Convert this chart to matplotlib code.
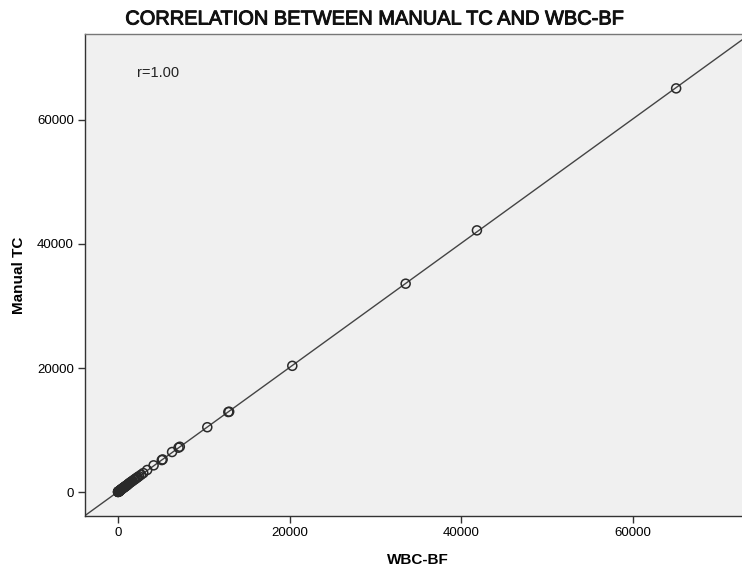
import numpy as np
import matplotlib
import matplotlib.pyplot as plt
import matplotlib.patheffects as pe

matplotlib.use("Agg")

plt.rcParams["font.family"] = ["Liberation Sans", "DejaVu Sans"]

# data (cells/uL)
wbc_bf = [65000, 41800, 33500, 20300, 12950, 12850, 10400, 7200, 7050, 6300,
          5200, 5100, 4150, 3400, 2950, 2700, 2450, 2300, 2200, 2050,
          1950, 1850, 1700, 1600, 1500, 1400, 1300, 1200, 1150, 1050,
          1000, 950, 900, 850, 800, 750, 700, 650, 600, 550,
          500, 450, 420, 380, 350, 300, 280, 250, 220, 200,
          180, 160, 140, 120, 100, 90, 80, 70, 60, 50,
          40, 30, 20, 10, 5]
manual_tc = [65100, 42200, 33600, 20350, 12950, 12900, 10450, 7300, 7150, 6450,
             5250, 5150, 4300, 3550, 3050, 2800, 2550, 2400, 2300, 2150,
             2050, 1950, 1800, 1700, 1600, 1500, 1400, 1300, 1200, 1100,
             1050, 1000, 950, 900, 850, 800, 750, 700, 650, 600,
             550, 500, 450, 400, 380, 320, 300, 270, 240, 220,
             190, 170, 150, 130, 110, 100, 90, 80, 70, 55,
             45, 35, 25, 15, 10]

x_ticks = [0, 20000, 40000, 60000]
y_ticks = [0, 20000, 40000, 60000]
r_value = np.corrcoef(wbc_bf, manual_tc)[0, 1]

fig = plt.figure(figsize=(7.42, 5.70), dpi=100)
# right edge of the plot runs past the crop, as in the reference
ax = fig.add_axes([85 / 742, 1 - 516 / 570, 665 / 742, 482 / 570])
ax.set_facecolor("#f0f0f0")

xlim = (-3840, 73600)
ylim = (-3870, 73870)
ax.set_xlim(xlim)
ax.set_ylim(ylim)

slope, intercept = np.polyfit(wbc_bf, manual_tc, 1)
xs = np.array(xlim)
ax.plot(xs, intercept + slope * xs, color="#444444", lw=1.0, zorder=2)

ax.scatter(wbc_bf, manual_tc, s=42, facecolors="none", edgecolors="#2a2a2a",
           linewidths=1.1, zorder=3)

ax.set_xticks(x_ticks)
ax.set_yticks(y_ticks)
ax.tick_params(direction="out", length=5, width=1, color="#333333",
               labelsize=9.5, pad=3)
for side in ["left", "bottom", "top", "right"]:
    ax.spines[side].set_color("#333333")
    ax.spines[side].set_linewidth(1)
ax.spines["top"].set_color("#777777")

ax.set_xlabel("WBC-BF", fontsize=11, fontweight="bold", labelpad=10)
ax.set_ylabel("Manual TC", fontsize=11, fontweight="bold", labelpad=8)
ax.text(0.078, 0.919, f"r={r_value:.2f}", transform=ax.transAxes,
        fontsize=10.5, ha="left", va="center", color="#222222")

# regular weight thickened a little to match the medium-weight title
fig.text(374 / 742, 1 - 19 / 570, "CORRELATION BETWEEN MANUAL TC AND WBC-BF",
         ha="center", va="center", fontsize=14.4, color="#111111",
         path_effects=[pe.withStroke(linewidth=0.7, foreground="#111111")])

fig.savefig("out.png", dpi=100)
